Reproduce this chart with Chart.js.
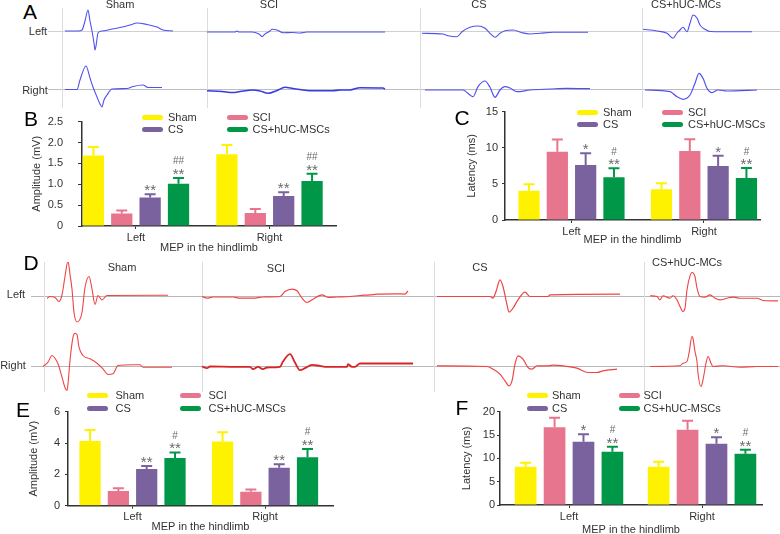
<!DOCTYPE html>
<html>
<head>
<meta charset="utf-8">
<script src="https://cdn.jsdelivr.net/npm/chart.js@4"></script>
<style>
body { margin: 0; background: #fff; width: 780px; height: 534px; overflow: hidden; position: relative; font-family: "Liberation Sans", Arial, sans-serif; }
canvas { position: absolute; }
.t { position: absolute; transform: translate(-50%, -50%); white-space: nowrap; font-size: 11px; color: #333; line-height: 1; }
.p { position: absolute; transform: translate(-50%, -50%); font-size: 21px; color: #000; line-height: 1; }
.lg { position: absolute; font-size: 11px; color: #333; line-height: 1; white-space: nowrap; }
.lg i { position: absolute; left: 0; width: 21px; height: 5px; border-radius: 2.5px; top: -2.5px; }
.lg span { position: absolute; top: 0; transform: translateY(-50%); }
</style>
</head>
<body>
<script>
// groups and sides
var groups = ['Sham', 'SCI', 'CS', 'CS+hUC-MSCs'];
var traceTitles = ['Sham', 'SCI', 'CS', 'CS+hUC-MCs'];
var sides = ['Left', 'Right'];
var colors = ['#FFF200', '#E8758E', '#7A629E', '#009848'];

// B: amplitude (mV), rats
var bSham = [1.69, 1.72], bSci = [0.30, 0.31], bCs = [0.68, 0.72], bHuc = [1.01, 1.08];
var bShamSd = [0.20, 0.22], bSciSd = [0.07, 0.10], bCsSd = [0.08, 0.09], bHucSd = [0.14, 0.17];
var bTicks = ['0', '0.5', '1.0', '1.5', '2.0', '2.5'];
var bSigCs = ['**', '**'], bSigHuc = ['##\n**', '##\n**'];

// C: latency (ms)
var cSham = [4.06, 4.25], cSci = [9.46, 9.55], cCs = [7.61, 7.48], cHuc = [5.91, 5.81];
var cShamSd = [0.88, 0.83], cSciSd = [1.70, 1.62], cCsSd = [1.62, 1.43], cHucSd = [1.25, 1.38];
var cTicks = ['0', '5', '10', '15'];
var cSigCs = ['*', '*'], cSigHuc = ['#\n**', '#\n**'];

// E: amplitude (mV)
var eSham = [4.13, 4.09], eSci = [0.94, 0.89], eCs = [2.34, 2.43], eHuc = [3.04, 3.09];
var eShamSd = [0.70, 0.60], eSciSd = [0.17, 0.15], eCsSd = [0.19, 0.21], eHucSd = [0.36, 0.53];
var eTicks = ['0', '2', '4', '6'];
var eSigCs = ['**', '**'], eSigHuc = ['#\n**', '#\n**'];

// F: latency (ms)
var fSham = [8.21, 8.21], fSci = [16.64, 16.14], fCs = [13.57, 13.14], fHuc = [11.43, 11.00];
var fShamSd = [0.86, 1.07], fSciSd = [2.07, 1.93], fCsSd = [1.57, 1.36], fHucSd = [1.07, 0.86];
var fTicks = ['0', '5', '10', '15', '20'];
var fSigCs = ['*', '*'], fSigHuc = ['#\n**', '#\n**'];

// A: MEP traces (blue), [time, amplitude]
var aShamL = [[0,0],[13,0],[17,1],[20,10],[23,21],[25,10],[27,0],[29,-12],[30,-19],[31,-15],[33,-2],[37,0],[45,1.5],[55,3.5],[65,6],[72,8],[82,6.5],[92,4],[98,1],[108,0]];
var aShamR = [[0,0],[12,0],[15,9.5],[21,23.5],[25,11.5],[28,2.5],[32,-7.5],[35,-14.5],[37,-17.5],[39,-10.5],[42,-5.5],[47,0.5],[62,1],[68,3],[78,4.5],[83,2],[88,2],[97,2]];
var aSciL = [[0,-1],[28,-1],[30,0],[32,-1],[45,-1],[52,-3],[55,-5.5],[58,-3],[63,0],[65,1.7],[70,1],[76,-1.7],[85,-1.5],[93,-2],[100,-1],[178,-1]];
var aSciR = [[0,-1.2],[15,-2],[26,-3],[33,-2],[46,-0.5],[53,-1.5],[61,-3.8],[70,-1],[78,2.2],[86,1],[93,0],[103,-1.2],[126,-1.2],[133,-0.5],[143,-0.5],[153,1.8],[176,1.5],[178,0.5]];
var aCsL = [[0,-2.3],[21,-3],[26,-4.7],[35,-5.7],[40,-0.7],[48,3.7],[56,5],[63,2.7],[68,-2.3],[73,-6.3],[78,-2.3],[83,0.3],[91,1],[100,-1.7],[108,-3],[118,-2.3],[131,-1.3],[166,-1.3]];
var aCsR = [[0,-0.5],[38,-0.5],[45,-5.5],[48,-7.2],[53,2.8],[60,8.5],[65,2.2],[70,-7.8],[75,-0.5],[80,2.8],[85,1.5],[92,-2.2],[105,-0.5],[125,0.5],[142,1.2],[165,0.8]];
var aHucL = [[0,1.7],[14,0],[24,-2.3],[30,-7.3],[34,-2],[37,1],[40,3.7],[44,-0.7],[47,7.7],[50,16],[54,13],[57,6],[62,1.7],[67,-0.5],[80,-0.7],[109,-0.7]];
var aHucR = [[0,-0.5],[25,-2.2],[32,-7.2],[38,-9.8],[45,-5.5],[50,6.2],[54,16.2],[58,11.2],[62,1.2],[67,-3.2],[73,-0.5],[82,-1.5],[112,-0.5]];

// D: MEP traces (red)
var dShamL = [[0,-2],[3,0],[8,-1],[12,-5],[15,1.5],[18,20],[21,35.5],[23,22],[25,7.5],[27,-16],[30,-25.5],[35,-16],[38,9],[42,20],[45,7.5],[48,-8],[51,1],[55,-3.5],[60,1],[121,1.2]];
var dShamR = [[0,0],[5,4.3],[9,11],[12,8.3],[15,2.7],[19,-10.7],[22,-21.3],[24,-24],[25,-17.3],[27,6],[30,29.3],[32,33.3],[34,32],[36,19.3],[40,11],[47,7.7],[54,3.3],[60,-2.3],[65,-8],[70,-7.3],[75,1],[90,1.7],[97,1.7],[100,-0.7],[129,-0.7]];
var dSciL = [[0,0],[5,-1.6],[11,-0.5],[31,-0.5],[38,-1.6],[51,-1.6],[61,-0.5],[78,0],[83,5],[90,7.4],[95,5.7],[100,-1.6],[105,-6],[111,-2.7],[120,1.7],[126,-0.9],[135,-0.5],[148,0],[158,1],[168,1.6],[175,2.4],[195,2.7],[203,2.4],[206,5.7]];
var dSciR = [[0,0],[5,-1.7],[8,0],[31,-0.3],[48,-0.3],[51,-2.7],[56,-0.3],[61,-2.7],[65,-1],[78,-0.3],[81,5],[88,12.3],[93,4],[98,-3.7],[103,-1.7],[110,1.6],[118,0.6],[125,-0.3],[145,-0.3],[146,2.3],[150,-0.3],[153,-0.3],[158,3],[211,3]];
var dCsL = [[0,0],[53,0],[56,-1.6],[59,5],[63,16.7],[66,10],[70,-8.3],[72,-15.6],[76,-11.7],[81,-3.3],[88,4.4],[93,0],[111,0],[113,1.7],[183,2.4]];
var dCsR = [[0,0.6],[50,0],[56,-2.7],[63,-7.7],[68,-14.4],[72,-19.4],[75,-14.4],[78,2.3],[81,10.6],[86,7.3],[91,-1],[95,-2.7],[100,0.6],[110,0.6],[116,1.3],[126,0.6],[140,-1.7],[151,-6],[160,-6],[166,-4.4],[180,-2.7]];
var dHucL = [[0,0.7],[7,0],[10,-3.4],[13,0.7],[20,-1.7],[23,0.7],[27,-3.4],[30,-10],[33,-15],[35,-11.7],[37,6.6],[40,20.6],[42,24],[45,20],[47,8.3],[50,0],[55,-0.6],[60,1.6],[65,-1.7],[70,-3.4],[77,-1.7],[83,-0.6],[90,-1.7],[107,-1.7],[113,-4],[128,-4.4]];
var dHucR = [[0,0],[30,0.7],[33,3.3],[37,5],[39,13.3],[42,30],[43,28],[45,15],[47,5],[48,-6.7],[51,-20],[53,-13.3],[56,3.3],[58,10],[61,3.3],[63,0],[73,0.7],[90,-0.7],[107,0],[128,0]];

Chart.defaults.font.family = '"Liberation Sans", Arial, sans-serif';
Chart.defaults.font.size = 11;
Chart.defaults.color = '#333';

function addCanvas(x, y, w, h) {
    var c = document.createElement('canvas');
    c.width = w; c.height = h;
    c.style.left = x + 'px'; c.style.top = y + 'px';
    document.body.appendChild(c);
    return c;
}

function text(s, x, y, cls) {
    var d = document.createElement('div');
    d.className = cls || 't';
    d.textContent = s;
    d.style.left = x + 'px'; d.style.top = y + 'px';
    document.body.appendChild(d);
}

function legend(cols, rows, gap) {
    groups.forEach(function (g, k) {
        var d = document.createElement('div');
        d.className = 'lg';
        d.style.left = cols[k % 2] + 'px';
        d.style.top = rows[Math.floor(k / 2)] + 'px';
        var i = document.createElement('i');
        i.style.background = colors[k];
        var s = document.createElement('span');
        s.style.left = gap + 'px';
        s.textContent = g;
        d.appendChild(i); d.appendChild(s);
        document.body.appendChild(d);
    });
}

// one row of traces (Left or Right), one x axis per column
function traceRow(box, traces, starts, seps, yMin, yMax, color, widths, baseColor) {
    var c = addCanvas(box.x, box.y, box.w, box.h);
    var scales = {
        y: {
            min: yMin, max: yMax,
            ticks: { display: false },
            border: { display: false },
            grid: { drawTicks: false, color: baseColor },
            afterBuildTicks: function (s) { s.ticks = [{ value: 0 }]; }
        }
    };
    traces.forEach(function (tr, k) {
        scales['x' + k] = {
            type: 'linear', position: 'bottom',
            min: box.x - starts[k], max: box.x + box.w - starts[k],
            ticks: { display: false },
            border: { display: false },
            grid: { drawTicks: false, color: '#dcdcdc' },
            afterBuildTicks: function (s) { s.ticks = [{ value: seps[k] - starts[k] }]; }
        };
    });
    new Chart(c, {
        type: 'line',
        data: {
            datasets: traces.map(function (tr, k) {
                return {
                    data: tr.map(function (p) { return { x: p[0], y: p[1] }; }),
                    xAxisID: 'x' + k, yAxisID: 'y',
                    borderColor: color[k], borderWidth: widths[k],
                    pointRadius: 0, cubicInterpolationMode: 'monotone', clip: false
                };
            })
        },
        options: {
            responsive: false, animation: false, events: [],
            plugins: { legend: { display: false }, tooltip: { enabled: false } },
            layout: { padding: 0 },
            scales: scales
        }
    });
}

// error bars and significance marks
var errPlugin = {
    id: 'errbars',
    afterDatasetsDraw: function (chart) {
        var ctx = chart.ctx, ys = chart.scales.y;
        chart.data.datasets.forEach(function (ds, di) {
            chart.getDatasetMeta(di).data.forEach(function (bar, i) {
                var top = ys.getPixelForValue(ds.data[i].y + ds.err[i]);
                ctx.save();
                ctx.strokeStyle = ds.backgroundColor;
                ctx.lineWidth = 2;
                ctx.beginPath();
                ctx.moveTo(bar.x, bar.y); ctx.lineTo(bar.x, top);
                ctx.moveTo(bar.x - 5.5, top); ctx.lineTo(bar.x + 5.5, top);
                ctx.stroke();
                if (ds.sig && ds.sig[i]) {
                    var lines = ds.sig[i].split('\n').reverse();
                    ctx.fillStyle = '#6a6a6a';
                    ctx.textAlign = 'center';
                    ctx.textBaseline = 'alphabetic';
                    lines.forEach(function (ln, k) {
                        ctx.font = (ln.indexOf('#') >= 0 ? '10px' : '15px') + ' "Liberation Sans", Arial, sans-serif';
                        ctx.fillText(ln, bar.x, top + 1 - k * 14.5);
                    });
                }
                ctx.restore();
            });
        });
    }
};

function barChart(cfg) {
    var b = cfg.box, a = cfg.area;
    var c = addCanvas(b.x, b.y, b.w, b.h);
    new Chart(c, {
        type: 'bar',
        data: {
            datasets: cfg.series.map(function (vals, k) {
                return {
                    label: groups[k],
                    data: vals.map(function (v, i) { return { x: i, y: v }; }),
                    err: cfg.errs[k], sig: cfg.sigs[k],
                    backgroundColor: colors[k],
                    categoryPercentage: cfg.cat, barPercentage: 0.75
                };
            })
        },
        options: {
            responsive: false, animation: false, events: [],
            plugins: { legend: { display: false }, tooltip: { enabled: false } },
            layout: { padding: { top: a.top, right: b.w - a.right, left: 0, bottom: 0 } },
            scales: {
                x: {
                    type: 'linear', min: cfg.xMin, max: cfg.xMax, offset: false,
                    afterBuildTicks: function (s) { s.ticks = sides.map(function (n, i) { return { value: i }; }); },
                    ticks: { callback: function (v) { return sides[v]; }, padding: cfg.xPad, autoSkip: false, maxRotation: 0, color: '#333' },
                    grid: { offset: false, drawOnChartArea: false, tickLength: 3, color: '#333' },
                    border: { color: '#333', width: 1.5 },
                    title: { display: true, text: 'MEP in the hindlimb', color: '#333', padding: { top: 0, bottom: cfg.xTitlePad } },
                    afterFit: function (s) { s.height = b.h - a.bottom; }
                },
                y: {
                    min: 0, max: cfg.yMax,
                    ticks: { stepSize: cfg.step, padding: cfg.yPad, color: '#333', callback: function (v, i) { return cfg.ticks[i]; } },
                    grid: { drawOnChartArea: false, tickLength: cfg.yTick, color: '#333' },
                    border: { color: '#333', width: 1.5 },
                    title: { display: true, text: cfg.yTitle, color: '#333', padding: { top: cfg.yTitlePad, bottom: 0 } },
                    afterFit: function (s) { s.width = a.left; }
                }
            }
        },
        plugins: [errPlugin]
    });
}

// ---- panel A ----
var blue = '#5050f0', blueDark = '#3a3ae6';
traceRow({ x: 48, y: 8, w: 732, h: 52 }, [aShamL, aSciL, aCsL, aHucL], [65, 207, 422, 643], [62, 207, 420, 642],
    -29, 23, [blue, blue, blue, blue], [1.1, 1.1, 1.1, 1.1], '#d0d0d0');
traceRow({ x: 48, y: 60, w: 732, h: 48 }, [aShamR, aSciR, aCsR, aHucR], [65, 207, 425, 645], [62, 207, 420, 642],
    -18.5, 29.5, [blue, blueDark, blue, blue], [1.1, 1.6, 1.2, 1.2], '#bdbdbd');
text('A', 30, 11, 'p');
text(traceTitles[0], 120, 4); text(traceTitles[1], 269, 4); text(traceTitles[2], 479, 4); text(traceTitles[3], 686, 4);
text(sides[0], 38, 31); text(sides[1], 35, 90);

// ---- panel D ----
var red = '#f04444', redDark = '#d82424';
traceRow({ x: 31, y: 262, w: 749, h: 69 }, [dShamL, dSciL, dCsL, dHucL], [47, 202, 437, 650], [44, 202, 434, 644],
    -34.5, 34.5, [red, red, red, red], [1.1, 1.2, 1.2, 1.1], '#b8b8b8');
traceRow({ x: 31, y: 331, w: 749, h: 61 }, [dShamR, dSciR, dCsR, dHucR], [43, 202, 437, 650], [44, 202, 434, 644],
    -25.5, 35.5, [red, redDark, red, red], [1.1, 1.8, 1.2, 1.1], '#b8b8b8');
text('D', 31, 262, 'p');
text(traceTitles[0], 122, 267); text(traceTitles[1], 276, 268); text(traceTitles[2], 480, 267); text(traceTitles[3], 687, 262);
text(sides[0], 16, 294); text(sides[1], 13, 365);

// ---- bar panels ----
barChart({ box: { x: 0, y: 100, w: 390, h: 155 }, area: { left: 82, top: 16, bottom: 126, right: 336 },
    series: [bSham, bSci, bCs, bHuc], errs: [bShamSd, bSciSd, bCsSd, bHucSd], sigs: [null, null, bSigCs, bSigHuc],
    xMin: -0.404, xMax: 1.498, cat: 0.85, yMax: 2.5, step: 0.5, ticks: bTicks, yTick: 4, yPad: 15,
    yTitle: 'Amplitude (mV)', yTitlePad: 30, xPad: 2, xTitlePad: 0.4 });
barChart({ box: { x: 390, y: 100, w: 390, h: 155 }, area: { left: 115, top: 11.7, bottom: 120, right: 370 },
    series: [cSham, cSci, cCs, cHuc], errs: [cShamSd, cSciSd, cCsSd, cHucSd], sigs: [null, null, cSigCs, cSigHuc],
    xMin: -0.502, xMax: 1.423, cat: 0.855, yMax: 15, step: 5, ticks: cTicks, yTick: 3, yPad: 4,
    yTitle: 'Latency (ms)', yTitlePad: 75, xPad: 2, xTitlePad: 8.4 });
barChart({ box: { x: 0, y: 395, w: 390, h: 139 }, area: { left: 68, top: 16.7, bottom: 110.7, right: 333 },
    series: [eSham, eSci, eCs, eHuc], errs: [eShamSd, eSciSd, eCsSd, eHucSd], sigs: [null, null, eSigCs, eSigHuc],
    xMin: -0.487, xMax: 1.513, cat: 0.855, yMax: 6, step: 2, ticks: eTicks, yTick: 3, yPad: 5,
    yTitle: 'Amplitude (mV)', yTitlePad: 27, xPad: 2, xTitlePad: 0.4 });
barChart({ box: { x: 390, y: 395, w: 390, h: 142 }, area: { left: 110, top: 16.7, bottom: 110, right: 372 },
    series: [fSham, fSci, fCs, fHuc], errs: [fShamSd, fSciSd, fCsSd, fHucSd], sigs: [null, null, fSigCs, fSigHuc],
    xMin: -0.519, xMax: 1.451, cat: 0.87, yMax: 20, step: 5, ticks: fTicks, yTick: 3, yPad: 2,
    yTitle: 'Latency (ms)', yTitlePad: 70, xPad: 2, xTitlePad: 0.4 });

legend([142, 226.5], [117, 129], 26);
legend([577, 662], [112, 124], 26);
legend([87, 180], [395, 408], 28.5);
legend([527, 618.5], [395, 408], 25);
text('B', 31, 118, 'p'); text('C', 462, 117, 'p');
text('E', 23, 409, 'p'); text('F', 462, 407, 'p');
</script>
</body>
</html>
